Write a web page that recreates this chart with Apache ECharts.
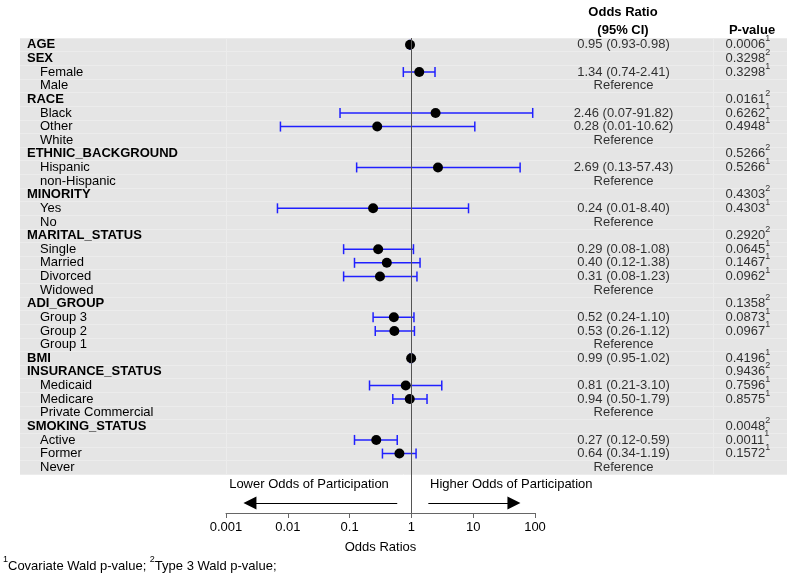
<!DOCTYPE html>
<html>
<head>
<meta charset="utf-8">
<script src="https://cdn.jsdelivr.net/npm/echarts@6/dist/echarts.min.js"></script>
<style>
  html, body { margin: 0; padding: 0; background: #fff; }
  #main { width: 787px; height: 580px; }
</style>
</head>
<body>
<div id="main"></div>
<script>
// rows, top to bottom
var rowLabels = ['AGE', 'SEX', 'Female', 'Male', 'RACE', 'Black', 'Other', 'White',
  'ETHNIC_BACKGROUND', 'Hispanic', 'non-Hispanic', 'MINORITY', 'Yes', 'No',
  'MARITAL_STATUS', 'Single', 'Married', 'Divorced', 'Widowed', 'ADI_GROUP',
  'Group 3', 'Group 2', 'Group 1', 'BMI', 'INSURANCE_STATUS', 'Medicaid', 'Medicare',
  'Private Commercial', 'SMOKING_STATUS', 'Active', 'Former', 'Never'];
var rowIsHeader = [1, 1, 0, 0, 1, 0, 0, 0, 1, 0, 0, 1, 0, 0, 1, 0, 0, 0, 0, 1, 0, 0, 0, 1, 1, 0, 0, 0, 1, 0, 0, 0];

// odds ratio and CI as plotted (null = no estimate)
var oddsRatio = [0.95, null, 1.34, null, null, 2.46, 0.28, null, null, 2.69, null, null, 0.24, null,
  null, 0.29, 0.40, 0.31, null, null, 0.52, 0.53, null, 0.99, null, 0.81, 0.94, null, null, 0.27, 0.64, null];
var ciLow = [0.93, null, 0.74, null, null, 0.07, 0.0076, null, null, 0.13, null, null, 0.0068, null,
  null, 0.08, 0.12, 0.08, null, null, 0.24, 0.26, null, 0.95, null, 0.21, 0.50, null, null, 0.12, 0.34, null];
var ciHigh = [0.98, null, 2.41, null, null, 91.82, 10.62, null, null, 57.43, null, null, 8.40, null,
  null, 1.08, 1.38, 1.23, null, null, 1.10, 1.12, null, 1.02, null, 3.10, 1.79, null, null, 0.59, 1.19, null];

// text columns
var orText = ['0.95 (0.93-0.98)', '', '1.34 (0.74-2.41)', 'Reference', '', '2.46 (0.07-91.82)',
  '0.28 (0.01-10.62)', 'Reference', '', '2.69 (0.13-57.43)', 'Reference', '', '0.24 (0.01-8.40)',
  'Reference', '', '0.29 (0.08-1.08)', '0.40 (0.12-1.38)', '0.31 (0.08-1.23)', 'Reference', '',
  '0.52 (0.24-1.10)', '0.53 (0.26-1.12)', 'Reference', '0.99 (0.95-1.02)', '', '0.81 (0.21-3.10)',
  '0.94 (0.50-1.79)', 'Reference', '', '0.27 (0.12-0.59)', '0.64 (0.34-1.19)', 'Reference'];
var pText = ['0.0006', '0.3298', '0.3298', '', '0.0161', '0.6262', '0.4948', '', '0.5266', '0.5266', '',
  '0.4303', '0.4303', '', '0.2920', '0.0645', '0.1467', '0.0962', '', '0.1358', '0.0873', '0.0967', '',
  '0.4196', '0.9436', '0.7596', '0.8575', '', '0.0048', '0.0011', '0.1572', ''];
var pSup = ['1', '2', '1', '', '2', '1', '1', '', '2', '1', '', '2', '1', '', '2', '1', '1', '1', '', '2',
  '1', '1', '', '1', '2', '1', '1', '', '2', '1', '1', ''];

var xTicks = [0.001, 0.01, 0.1, 1, 10, 100];

//layout
var FONT = '"Liberation Sans", Arial, sans-serif';
var TOP = 38, ROWS_H = 436, AXIS_Y = 513;
var rowH = ROWS_H / rowLabels.length;
var yMaxB = (AXIS_Y - TOP) / rowH;
var arrowY = (503 - TOP) / rowH;
var OR_X = 603.5, P_X = 705.5;

var chart = echarts.init(document.getElementById('main'));

var pointData = [], barData = [], orData = [], pData = [];
rowLabels.forEach(function(l, i) {
  if (oddsRatio[i] != null) {
    pointData.push([oddsRatio[i], i + 0.5]);
    barData.push([ciLow[i], ciHigh[i], i + 0.5]);
  }
  if (orText[i]) orData.push({ value: [OR_X, i], txt: orText[i] });
  if (pText[i]) pData.push({ value: [P_X, i], txt: pText[i], sup: pSup[i] });
});

var supRich = {
  v: { fontSize: 13, color: '#000', fill: '#000', fontFamily: FONT, lineHeight: 21 },
  s: { fontSize: 9, color: '#000', fill: '#000', fontFamily: FONT, lineHeight: 9, verticalAlign: 'top' }
};

var option = {
  animation: false,
  textStyle: { fontFamily: FONT },
  grid: [
    { left: 20, right: 0, top: TOP, height: ROWS_H, show: true, backgroundColor: '#e5e5e5', borderWidth: 0 },
    { left: 226, width: 309, top: TOP, height: AXIS_Y - TOP }
  ],
  xAxis: [
    { gridIndex: 0, type: 'value', min: 0, max: 767, show: false },
    {
      gridIndex: 1, type: 'log', logBase: 10, min: xTicks[0], max: xTicks[xTicks.length - 1],
      axisLine: { onZero: false, lineStyle: { color: '#666', width: 1 } },
      axisTick: { length: 5, lineStyle: { color: '#666' } },
      axisLabel: { color: '#000', fontSize: 13, margin: 8, fontFamily: FONT,
        formatter: function(v) { return String(+v.toPrecision(3)); } },
      splitLine: { show: false },
      name: 'Odds Ratios', nameLocation: 'middle', nameGap: 28,
      nameTextStyle: { color: '#000', fontSize: 13, fontFamily: FONT }
    }
  ],
  yAxis: [
    {
      gridIndex: 0, type: 'category', inverse: true, data: rowLabels,
      axisLine: { show: false }, axisTick: { show: false },
      splitLine: { show: true, lineStyle: { color: '#ececec', width: 1 } },
      axisLabel: {
        inside: true, margin: 7, interval: 0,
        formatter: function(v, i) { return rowIsHeader[i] ? '{h|' + v + '}' : '{s|' + v + '}'; },
        rich: {
          h: { fontSize: 13, fontWeight: 'bold', color: '#000', fontFamily: FONT },
          s: { fontSize: 13, color: '#000', padding: [0, 0, 0, 13], fontFamily: FONT }
        }
      }
    },
    { gridIndex: 1, type: 'value', inverse: true, min: 0, max: yMaxB, show: false }
  ],
  series: [
    {
      type: 'scatter', xAxisIndex: 0, yAxisIndex: 0, symbolSize: 0, silent: true,
      data: orData,
      label: { show: true, position: 'inside', color: '#000', fontSize: 13, fontFamily: FONT,
        formatter: function(p) { return p.data.txt; } },
      markLine: {
        silent: true, symbol: 'none', label: { show: false },
        lineStyle: { color: '#ececec', width: 1, type: 'solid' },
        data: [{ xAxis: 206 }, { xAxis: 693 }]
      }
    },
    {
      type: 'scatter', xAxisIndex: 0, yAxisIndex: 0, symbolSize: 0, silent: true,
      data: pData,
      label: { show: true, position: 'right', distance: 0,
        formatter: function(p) { return '{v|' + p.data.txt + '}{s|' + p.data.sup + '}'; },
        rich: supRich
      }
    },
    {
      type: 'custom', xAxisIndex: 1, yAxisIndex: 1, silent: true, z: 3,
      data: barData,
      encode: { x: [0, 1], y: 2 },
      renderItem: function(params, api) {
        var a = api.coord([api.value(0), api.value(2)]);
        var b = api.coord([api.value(1), api.value(2)]);
        var st = { stroke: '#2020ff', lineWidth: 1.5 };
        var c = 5;
        return { type: 'group', children: [
          { type: 'line', shape: { x1: a[0], y1: a[1], x2: b[0], y2: b[1] }, style: st },
          { type: 'line', shape: { x1: a[0], y1: a[1] - c, x2: a[0], y2: a[1] + c }, style: st },
          { type: 'line', shape: { x1: b[0], y1: b[1] - c, x2: b[0], y2: b[1] + c }, style: st }
        ] };
      }
    },
    {
      type: 'scatter', xAxisIndex: 1, yAxisIndex: 1, z: 4, silent: true,
      symbol: 'circle', symbolSize: 10, itemStyle: { color: '#000', opacity: 1 },
      data: pointData,
      markLine: {
        silent: true, symbol: 'none', label: { show: false },
        lineStyle: { color: '#555', width: 1, type: 'solid' },
        data: [{ xAxis: 1 }]
      }
    },
    {
      type: 'line', xAxisIndex: 1, yAxisIndex: 1, data: [], silent: true,
      markLine: {
        silent: true, symbol: ['none', 'triangle'], symbolSize: 13, label: { show: false },
        lineStyle: { color: '#000', width: 1, type: 'solid' },
        itemStyle: { color: '#000' },
        data: [
          [{ coord: [0.59, arrowY] }, { coord: [0.00244, arrowY] }],
          [{ coord: [1.88, arrowY] }, { coord: [45.6, arrowY] }]
        ]
      }
    }
  ],
  graphic: [
    { type: 'text', x: 623, y: 12, style: { text: 'Odds Ratio', fontFamily: FONT, fontSize: 13, fontWeight: 'bold', fill: '#000', align: 'center', verticalAlign: 'middle' } },
    { type: 'text', x: 623, y: 30, style: { text: '(95% CI)', fontFamily: FONT, fontSize: 13, fontWeight: 'bold', fill: '#000', align: 'center', verticalAlign: 'middle' } },
    { type: 'text', x: 752, y: 30, style: { text: 'P-value', fontFamily: FONT, fontSize: 13, fontWeight: 'bold', fill: '#000', align: 'center', verticalAlign: 'middle' } },
    { type: 'text', x: 309, y: 484, style: { text: 'Lower Odds of Participation', fontFamily: FONT, fontSize: 13, fill: '#000', align: 'center', verticalAlign: 'middle' } },
    { type: 'text', x: 430, y: 484, style: { text: 'Higher Odds of Participation', fontFamily: FONT, fontSize: 13, fill: '#000', align: 'left', verticalAlign: 'middle' } },
    { type: 'text', x: 3, y: 566, style: {
      text: '{s|1}{v|Covariate Wald p-value; }{s|2}{v|Type 3 Wald p-value;}',
      verticalAlign: 'middle',
      rich: supRich
    } }
  ]
};
chart.setOption(option);
</script>
</body>
</html>
